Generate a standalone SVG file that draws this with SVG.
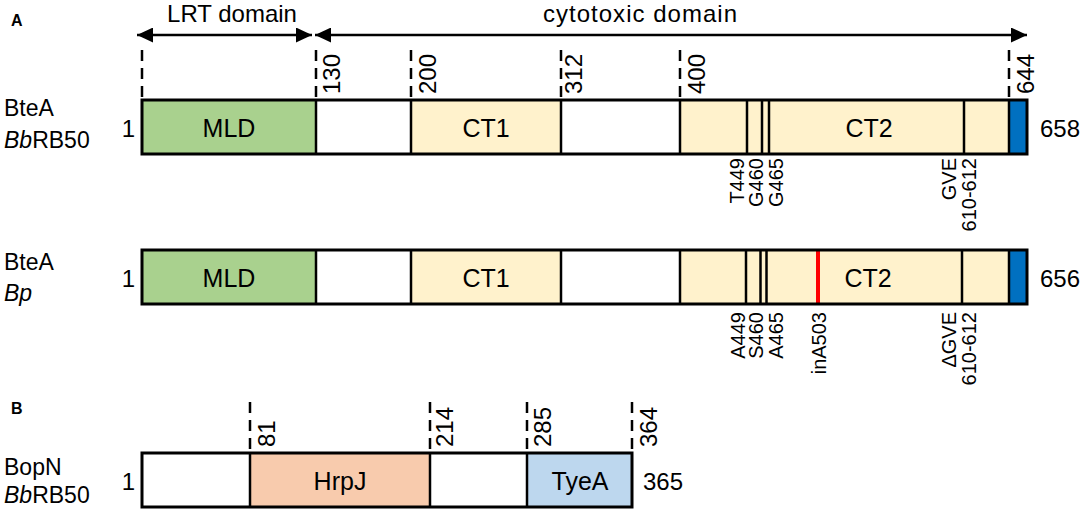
<svg xmlns="http://www.w3.org/2000/svg" width="1084" height="511" viewBox="0 0 1084 511">
<defs>
<marker id="ah" viewBox="0 0 16 15" refX="16" refY="7.5" markerWidth="16" markerHeight="15" markerUnits="userSpaceOnUse" orient="auto-start-reverse">
<path d="M0,0 L16,7.5 L0,15 z" fill="#000"/>
</marker>
</defs>
<style>
text{font-family:"Liberation Sans",Arial,sans-serif;fill:#000}
.lbl{font-size:23px}
.dom{font-size:25px;text-anchor:middle}
.num{font-size:24px}
.pos{font-size:20px;text-anchor:end}
.hd{font-size:24px;text-anchor:middle}
.pan{font-size:16px;font-weight:bold}
.dash{stroke:#000;stroke-width:2.5;stroke-dasharray:11 7;fill:none}
.div{stroke:#000;stroke-width:2.5}
.frame{fill:none;stroke:#000;stroke-width:3}
.arr{stroke:#000;stroke-width:2.5;fill:none}
</style>
<rect width="1084" height="511" fill="#fff"/>

<text class="pan" x="11" y="26">A</text>
<text class="pan" x="11" y="414">B</text>

<g id="connectors">
<line class="arr" x1="137" y1="35" x2="312" y2="35" marker-start="url(#ah)" marker-end="url(#ah)"/>
<line class="arr" x1="315" y1="35" x2="1027" y2="35" marker-start="url(#ah)" marker-end="url(#ah)"/>
<text class="hd" x="232" y="22">LRT domain</text>
<text class="hd" x="640" y="22" textLength="194">cytotoxic domain</text>
</g>

<g id="boundaries">
<line class="dash" x1="142" y1="50" x2="142" y2="100"/>
<line class="dash" x1="316" y1="50" x2="316" y2="100"/>
<line class="dash" x1="411" y1="50" x2="411" y2="100"/>
<line class="dash" x1="561" y1="50" x2="561" y2="100"/>
<line class="dash" x1="680" y1="50" x2="680" y2="100"/>
<line class="dash" x1="1009" y1="50" x2="1009" y2="100"/>
<text class="num" transform="translate(340,94) rotate(-90)">130</text>
<text class="num" transform="translate(436,94) rotate(-90)">200</text>
<text class="num" transform="translate(582,94) rotate(-90)">312</text>
<text class="num" transform="translate(705,94) rotate(-90)">400</text>
<text class="num" transform="translate(1034,94) rotate(-90)">644</text>
</g>

<g id="bteA-bb">
<text class="lbl" x="4" y="116">BteA</text>
<text class="lbl" x="4" y="148"><tspan font-style="italic">Bb</tspan>RB50</text>
<text class="num" x="135" y="137" text-anchor="end">1</text>
<rect x="142" y="100" width="174" height="54" fill="#a9d18e"/>
<rect x="316" y="100" width="95" height="54" fill="#fff"/>
<rect x="411" y="100" width="150" height="54" fill="#fff2cc"/>
<rect x="561" y="100" width="119" height="54" fill="#fff"/>
<rect x="680" y="100" width="329" height="54" fill="#fff2cc"/>
<rect x="1009" y="100" width="18" height="54" fill="#0070c0"/>
<g class="div">
<line x1="316" y1="100" x2="316" y2="154"/>
<line x1="411" y1="100" x2="411" y2="154"/>
<line x1="561" y1="100" x2="561" y2="154"/>
<line x1="680" y1="100" x2="680" y2="154"/>
<line x1="747" y1="100" x2="747" y2="154"/>
<line x1="762" y1="100" x2="762" y2="154"/>
<line x1="769" y1="100" x2="769" y2="154"/>
<line x1="964" y1="100" x2="964" y2="154"/>
<line x1="1009" y1="100" x2="1009" y2="154"/>
</g>
<rect class="frame" x="142" y="100" width="885" height="54"/>
<text class="dom" x="229" y="137">MLD</text>
<text class="dom" x="486" y="137">CT1</text>
<text class="dom" x="869" y="137">CT2</text>
<text class="num" x="1040" y="137">658</text>
<text class="pos" transform="translate(744,158) rotate(-90)">T449</text>
<text class="pos" transform="translate(763,158) rotate(-90)">G460</text>
<text class="pos" transform="translate(783,158) rotate(-90)">G465</text>
<text class="pos" transform="translate(956,158) rotate(-90)">GVE</text>
<text class="pos" transform="translate(976,158) rotate(-90)">610-612</text>
</g>

<g id="bteA-bp">
<text class="lbl" x="4" y="270">BteA</text>
<text class="lbl" x="4" y="301" font-style="italic">Bp</text>
<text class="num" x="135" y="287" text-anchor="end">1</text>
<rect x="142" y="250" width="174" height="54" fill="#a9d18e"/>
<rect x="316" y="250" width="95" height="54" fill="#fff"/>
<rect x="411" y="250" width="150" height="54" fill="#fff2cc"/>
<rect x="561" y="250" width="119" height="54" fill="#fff"/>
<rect x="680" y="250" width="329" height="54" fill="#fff2cc"/>
<rect x="1009" y="250" width="18" height="54" fill="#0070c0"/>
<g class="div">
<line x1="316" y1="250" x2="316" y2="304"/>
<line x1="411" y1="250" x2="411" y2="304"/>
<line x1="561" y1="250" x2="561" y2="304"/>
<line x1="680" y1="250" x2="680" y2="304"/>
<line x1="746" y1="250" x2="746" y2="304"/>
<line x1="760.5" y1="250" x2="760.5" y2="304"/>
<line x1="766.5" y1="250" x2="766.5" y2="304"/>
<line x1="962" y1="250" x2="962" y2="304"/>
<line x1="1009" y1="250" x2="1009" y2="304"/>
</g>
<line x1="818" y1="251" x2="818" y2="303" stroke="#ff0000" stroke-width="4"/>
<rect class="frame" x="142" y="250" width="885" height="54"/>
<text class="dom" x="229" y="287">MLD</text>
<text class="dom" x="486" y="287">CT1</text>
<text class="dom" x="868" y="287">CT2</text>
<text class="num" x="1040" y="287">656</text>
<text class="pos" transform="translate(745,312) rotate(-90)">A449</text>
<text class="pos" transform="translate(763,312) rotate(-90)">S460</text>
<text class="pos" transform="translate(783,312) rotate(-90)">A465</text>
<text class="pos" transform="translate(826,312) rotate(-90)">inA503</text>
<text class="pos" transform="translate(956,312) rotate(-90)">ΔGVE</text>
<text class="pos" transform="translate(976,312) rotate(-90)">610-612</text>
</g>

<g id="bopN">
<line class="dash" x1="250" y1="402" x2="250" y2="453"/>
<line class="dash" x1="430" y1="402" x2="430" y2="453"/>
<line class="dash" x1="527" y1="402" x2="527" y2="453"/>
<line class="dash" x1="632" y1="402" x2="632" y2="453"/>
<text class="num" transform="translate(275,447) rotate(-90)">81</text>
<text class="num" transform="translate(453,447) rotate(-90)">214</text>
<text class="num" transform="translate(551,447) rotate(-90)">285</text>
<text class="num" transform="translate(657,447) rotate(-90)">364</text>
<text class="lbl" x="4" y="475">BopN</text>
<text class="lbl" x="4" y="503"><tspan font-style="italic">Bb</tspan>RB50</text>
<text class="num" x="135" y="490" text-anchor="end">1</text>
<rect x="142" y="453" width="108" height="54" fill="#fff"/>
<rect x="250" y="453" width="180" height="54" fill="#f8cbad"/>
<rect x="430" y="453" width="97" height="54" fill="#fff"/>
<rect x="527" y="453" width="105" height="54" fill="#bdd7ee"/>
<g class="div">
<line x1="250" y1="453" x2="250" y2="507"/>
<line x1="430" y1="453" x2="430" y2="507"/>
<line x1="527" y1="453" x2="527" y2="507"/>
</g>
<rect class="frame" x="142" y="453" width="490" height="54"/>
<text class="dom" x="340" y="490">HrpJ</text>
<text class="dom" x="580" y="490">TyeA</text>
<text class="num" x="643" y="490">365</text>
</g>
</svg>
